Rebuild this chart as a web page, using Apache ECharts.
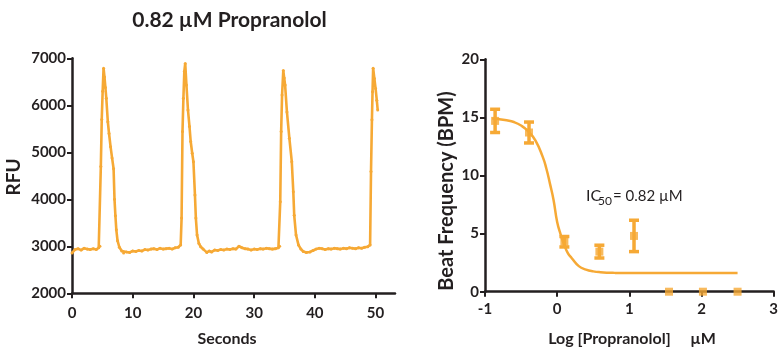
<!DOCTYPE html>
<html>
<head>
<meta charset="utf-8">
<script src="https://cdn.jsdelivr.net/npm/echarts@6/dist/echarts.min.js"></script>
<style>
  html, body { margin: 0; padding: 0; background: #fff; }
  #chart { width: 781px; height: 349px; }
</style>
</head>
<body>
<div id="chart"></div>
<script>
// left panel: calcium trace
const seconds = [
  0, 0.5, 1, 1.5, 2, 2.5, 3, 3.5, 4, 4.4, 4.6, 4.75, 4.9, 5.05, 5.2, 5.35, 5.5, 5.65, 5.9, 6.1, 6.35, 6.6, 6.85,
  7.0, 7.15, 7.3, 7.5, 7.8, 8.2, 8.5, 9, 9.5, 10, 10.5, 11, 11.5, 12, 12.5, 13, 13.5, 14, 14.5, 15, 15.5, 16,
  16.5, 17, 17.5, 17.9,
  18.05, 18.2, 18.35, 18.5, 18.65, 18.85, 19.1, 19.35, 19.55, 19.8, 20.0, 20.25, 20.4, 20.6, 20.9, 21.2, 21.6,
  22.2, 22.6, 23, 23.5, 24, 24.5, 25, 25.5, 26, 26.5, 27, 27.5, 28, 28.5, 29, 29.5, 30, 30.5, 31, 31.5, 32,
  32.5, 33, 33.5, 34.0, 34.2,
  34.3, 34.45, 34.6, 34.8, 34.95, 35.1, 35.4, 35.8, 36.2, 36.45, 36.6, 36.9, 37.3, 37.7, 38.1, 38.6, 39.2,
  39.7, 40.2, 40.7, 41.2, 41.7, 42.2, 42.7, 43.2, 43.7, 44.2, 44.7, 45.2, 45.7, 46.2, 46.7, 47.2, 47.7, 48.2,
  48.7, 49.1,
  49.25, 49.4, 49.5, 49.6, 49.8, 50.0, 50.2, 50.35
];
const rfu = [
  2860, 2930, 2950, 2920, 2960, 2940, 2930, 2950, 2930, 2970, 3000, 4700, 5700, 6300, 6790, 6600, 6380, 6150, 5650, 5400, 5120, 4880, 4650,
  4000, 3650, 3350, 3120, 2980, 2900, 2860, 2880, 2870, 2900, 2890, 2910, 2900, 2930, 2920, 2940, 2950, 2930, 2960, 2940, 2950, 2960,
  2940, 2970, 2980, 3030,
  3600, 5440, 6150, 6720, 6890, 6430, 5900, 5550, 5230, 4980, 4800, 4090, 3600, 3240, 3060, 2990, 2940,
  2870, 2900, 2880, 2920, 2910, 2930, 2920, 2940, 2930, 2950, 2940, 3000, 2970, 2950, 2940, 2920, 2940, 2930, 2950, 2940, 2960,
  2950, 2940, 2950, 2970, 3000,
  3950, 5440, 6220, 6740, 6580, 6430, 5860, 5300, 4800, 4160, 3660, 3240, 3030, 2940, 2890, 2870, 2880,
  2910, 2940, 2960, 2950, 2930, 2950, 2940, 2960, 2950, 2940, 2960, 2950, 2970, 2960, 2950, 2970, 2960, 2980,
  2990, 3030,
  4590, 5690, 6290, 6790, 6570, 6360, 6110, 5900
];
const secondsTicks = [0, 10, 20, 30, 40, 50];
const rfuTicks = [2000, 3000, 4000, 5000, 6000, 7000];

// right panel: dose response
const logConc = [-0.86, -0.39, 0.1, 0.585, 1.065, 1.55, 2.02, 2.5];
const bpmMean = [14.7, 13.7, 4.3, 3.45, 4.8, 0, 0, 0];
const bpmErr = [1.0, 0.9, 0.45, 0.55, 1.35, 0, 0, 0];
const fitLogConc = [-0.9, -0.8, -0.7, -0.6, -0.5, -0.4, -0.3, -0.2, -0.15, -0.1, -0.05, 0, 0.05, 0.1, 0.15, 0.2, 0.3, 0.4, 0.5, 0.6, 0.8, 1.0, 1.5, 2.0, 2.5];
const fitBpm = [14.9, 14.85, 14.75, 14.6, 14.3, 13.8, 13.0, 11.6, 10.6, 9.3, 7.9, 6.0, 4.9, 4.0, 3.3, 2.9, 2.2, 1.9, 1.75, 1.68, 1.62, 1.6, 1.6, 1.6, 1.6];
const logTicks = [-1, 0, 1, 2, 3];
const bpmTicks = [0, 5, 10, 15, 20];

const orange = '#F6A935';
const ink = '#231F20';
const font = 'Lato, "Open Sans", sans-serif';

const chart = echarts.init(document.getElementById('chart'));

function axis(min, max, ticks, extra, margin) {
  return Object.assign({
    type: 'value',
    min: min,
    max: max,
    splitLine: { show: false },
    axisLine: { show: true, onZero: false, lineStyle: { color: ink, width: 2.5 } },
    axisTick: { show: true, length: 5, lineStyle: { color: ink, width: 2 }, customValues: ticks },
    axisLabel: {
      color: ink, fontFamily: font, fontWeight: 'bold', fontSize: 15, margin: margin || 6,
      customValues: ticks,
      formatter: v => String(v)
    }
  }, extra || {});
}

const option = {
  animation: false,
  backgroundColor: '#fff',
  grid: [
    { left: 72, top: 58.3, width: 323, height: 235 },
    { left: 485, top: 59.3, width: 294.3, height: 232.4 }
  ],
  xAxis: [
    axis(0, 53.2, secondsTicks, { gridIndex: 0 }, 12),
    axis(-1, 3, logTicks, { gridIndex: 1 }, 10)
  ],
  yAxis: [
    axis(2000, 7000, rfuTicks, { gridIndex: 0 }),
    axis(0, 20, bpmTicks, { gridIndex: 1 })
  ],
  series: [
    {
      name: 'RFU',
      type: 'line',
      xAxisIndex: 0,
      yAxisIndex: 0,
      data: seconds.map((t, i) => [t, rfu[i]]),
      symbol: 'circle',
      symbolSize: 3,
      lineStyle: { color: orange, width: 2.6 },
      itemStyle: { color: orange }
    },
    {
      name: 'fit',
      type: 'line',
      xAxisIndex: 1,
      yAxisIndex: 1,
      smooth: true,
      showSymbol: false,
      data: fitLogConc.map((x, i) => [x, fitBpm[i]]),
      lineStyle: { color: orange, width: 2.5 }
    },
    {
      name: 'error',
      type: 'custom',
      xAxisIndex: 1,
      yAxisIndex: 1,
      data: logConc.map((x, i) => [x, bpmMean[i], bpmErr[i]]),
      renderItem: function (params, api) {
        const x = api.value(0), m = api.value(1), e = api.value(2);
        if (!e) return null;
        const hi = api.coord([x, m + e]);
        const lo = api.coord([x, m - e]);
        const w = 5;
        const st = { stroke: orange, lineWidth: 3.5 };
        return {
          type: 'group',
          children: [
            { type: 'line', shape: { x1: hi[0], y1: hi[1], x2: lo[0], y2: lo[1] }, style: st },
            { type: 'line', shape: { x1: hi[0] - w, y1: hi[1], x2: hi[0] + w, y2: hi[1] }, style: st },
            { type: 'line', shape: { x1: lo[0] - w, y1: lo[1], x2: lo[0] + w, y2: lo[1] }, style: st }
          ]
        };
      },
      z: 3
    },
    {
      name: 'BPM',
      type: 'scatter',
      xAxisIndex: 1,
      yAxisIndex: 1,
      symbol: 'rect',
      symbolSize: 8,
      data: logConc.map((x, i) => [x, bpmMean[i]]),
      itemStyle: { color: orange },
      z: 4
    }
  ],
  graphic: [
    { type: 'text', x: 229.5, y: 20, style: { text: '0.82 µM Propranolol', font: 'bold 21px ' + font, fill: ink, textAlign: 'center', textVerticalAlign: 'middle' } },
    { type: 'text', x: 14, y: 177, rotation: Math.PI / 2, style: { text: 'RFU', font: 'bold 19px ' + font, fill: ink, textAlign: 'center', textVerticalAlign: 'middle' } },
    { type: 'text', x: 227, y: 339, style: { text: 'Seconds', font: 'bold 16px ' + font, fill: ink, textAlign: 'center', textVerticalAlign: 'middle' } },
    { type: 'text', x: 447, y: 191, rotation: Math.PI / 2, style: { text: 'Beat Frequency (BPM)', font: 'bold 20px ' + font, fill: ink, textAlign: 'center', textVerticalAlign: 'middle' } },
    { type: 'text', x: 632, y: 339, style: { text: 'Log [Propranolol]     µM', font: 'bold 16px ' + font, fill: ink, textAlign: 'center', textVerticalAlign: 'middle' } },
    { type: 'text', x: 586, y: 196, style: { text: 'IC', font: '16px ' + font, fill: ink, textAlign: 'left', textVerticalAlign: 'middle' } },
    { type: 'text', x: 598, y: 201, style: { text: '50', font: '12px ' + font, fill: ink, textAlign: 'left', textVerticalAlign: 'middle' } },
    { type: 'text', x: 613, y: 196, style: { text: '= 0.82 µM', font: '15px ' + font, fill: ink, textAlign: 'left', textVerticalAlign: 'middle' } }
  ]
};

chart.setOption(option);
window.addEventListener('resize', () => chart.resize());
</script>
</body>
</html>
